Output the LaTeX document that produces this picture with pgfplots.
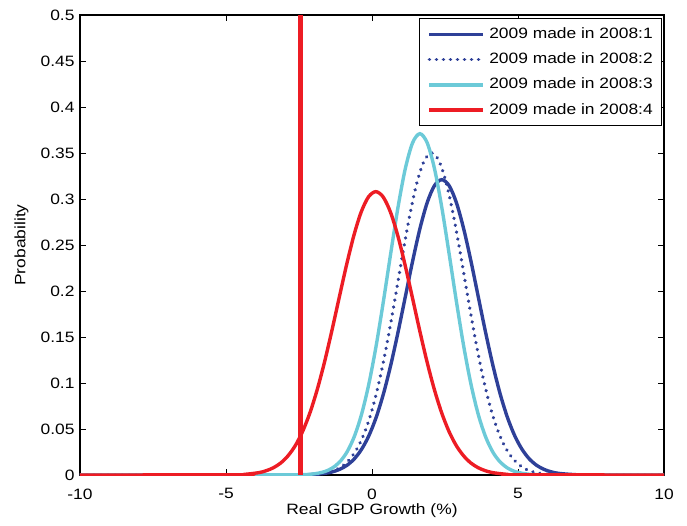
\documentclass[border=0pt]{standalone}
\usepackage{fontspec}
\setmainfont{Liberation Sans}[FakeStretch=1.16]
\usepackage{pgfplots}
\pgfplotsset{compat=1.18}
\definecolor{dblue}{RGB}{46,64,152}
\definecolor{lcyan}{RGB}{108,202,216}
\definecolor{myred}{RGB}{237,28,36}
\begin{document}
\begin{tikzpicture}
\begin{axis}[
  name=ax,
  width=584pt, height=460pt, scale only axis,
  xmin=-10, xmax=10, ymin=0, ymax=0.5,
  xtick={-10,-5,0,5,10},
  ytick={0,0.05,0.1,0.15,0.2,0.25,0.3,0.35,0.4,0.45,0.5},
  tick align=inside, major tick length=6pt,
  axis line style={line width=1.2pt},
  tick style={black, line width=0.8pt},
  font=\fontsize{15}{18}\selectfont,
  /pgf/number format/assume math mode=true,
  yticklabel style={/pgf/number format/fixed,/pgf/number format/precision=2, xshift=-2pt},
  xticklabel style={yshift=-10pt},
  xlabel={Real GDP Growth (\%)}, ylabel={Probability},
  xlabel style={at={(axis description cs:0.5,-0.078)}, anchor=center},
  ylabel style={at={(axis description cs:-0.1,0.5)}, anchor=center},
  legend cell align=left,
  legend image code/.code={\draw[#1] (0pt,0pt) -- (54pt,0pt); \path (57pt,0pt);},
  legend style={at={(0.997,0.993)}, anchor=north east, draw=black, line width=1pt,
    font=\fontsize{15}{18}\selectfont, inner xsep=8pt, inner ysep=7.5pt, row sep=9.3pt,
    nodes={inner sep=1pt, text height=11pt, text depth=3pt}},
]
\addplot[dblue, line width=3.4pt, smooth] coordinates {
(-10,0) (-2.61,0.0001) (-2.11,0.0005) (-1.61,0.0018) (-1.36,0.0034) (-1.11,0.0061)
(-0.86,0.0105) (-0.61,0.0174) (-0.36,0.0278) (-0.11,0.0425) (0.14,0.0624) (0.39,0.0880)
(0.64,0.1192) (0.89,0.1550) (1.14,0.1936) (1.39,0.2323) (1.64,0.2676) (1.89,0.2961)
(2.14,0.3146) (2.39,0.321) (2.64,0.3146) (2.89,0.2961) (3.14,0.2676) (3.39,0.2323)
(3.64,0.1936) (3.89,0.1550) (4.14,0.1192) (4.39,0.0880) (4.64,0.0624) (4.89,0.0425)
(5.14,0.0278) (5.39,0.0174) (5.64,0.0105) (5.89,0.0061) (6.14,0.0034) (6.39,0.0018)
(6.89,0.0005) (7.39,0.0001) (10,0)};
\addlegendentry{2009 made in 2008:1}
\addplot[dblue, line width=3.6pt, line cap=round, dash pattern=on 0.01pt off 7pt, smooth] coordinates {
(-10,0) (-2.46,0.0001) (-1.96,0.0007) (-1.71,0.0016) (-1.46,0.0031) (-1.21,0.0060)
(-0.96,0.0110) (-0.71,0.0191) (-0.46,0.0316) (-0.21,0.0499) (0.04,0.0751) (0.29,0.1078)
(0.54,0.1473) (0.79,0.1919) (1.04,0.2382) (1.29,0.2819) (1.54,0.3179) (1.79,0.3417)
(2.04,0.350) (2.29,0.3417) (2.54,0.3179) (2.79,0.2819) (3.04,0.2382) (3.29,0.1919)
(3.54,0.1473) (3.79,0.1078) (4.04,0.0751) (4.29,0.0499) (4.54,0.0316) (4.79,0.0191)
(5.04,0.0110) (5.29,0.0060) (5.54,0.0031) (5.79,0.0016) (6.04,0.0007) (6.54,0.0001) (10,0)};
\addlegendentry{2009 made in 2008:2}
\addplot[lcyan, line width=3.4pt, smooth] coordinates {
(-10,0) (-2.86,0.0001) (-2.36,0.0004) (-2.11,0.0008) (-1.86,0.0019) (-1.61,0.0038)
(-1.36,0.0076) (-1.11,0.0141) (-0.86,0.0248) (-0.61,0.0415) (-0.36,0.0657) (-0.11,0.0986)
(0.14,0.1401) (0.39,0.1887) (0.64,0.2407) (0.89,0.2909) (1.14,0.3330) (1.39,0.3611)
(1.64,0.371) (1.89,0.3611) (2.14,0.3330) (2.39,0.2909) (2.64,0.2407) (2.89,0.1887)
(3.14,0.1401) (3.39,0.0986) (3.64,0.0657) (3.89,0.0415) (4.14,0.0248) (4.39,0.0141)
(4.64,0.0076) (4.89,0.0038) (5.14,0.0019) (5.39,0.0008) (5.64,0.0004) (6.14,0.0001) (10,0)};
\addlegendentry{2009 made in 2008:3}
\addplot[myred, line width=3.4pt, smooth] coordinates {
(-10,0) (-4.87,0.0002) (-4.37,0.0007) (-3.87,0.0026) (-3.62,0.0047) (-3.37,0.0080)
(-3.12,0.0132) (-2.87,0.0211) (-2.62,0.0323) (-2.37,0.0478) (-2.12,0.0681) (-1.87,0.0935)
(-1.62,0.1236) (-1.37,0.1575) (-1.12,0.1933) (-0.87,0.2286) (-0.62,0.2605) (-0.37,0.2859)
(-0.12,0.3023) (0.13,0.308) (0.38,0.3023) (0.63,0.2859) (0.88,0.2605) (1.13,0.2286)
(1.38,0.1933) (1.63,0.1575) (1.88,0.1236) (2.13,0.0935) (2.38,0.0681) (2.63,0.0478)
(2.88,0.0323) (3.13,0.0211) (3.38,0.0132) (3.63,0.0080) (3.88,0.0047) (4.13,0.0026)
(4.63,0.0007) (5.13,0.0002) (10,0)};
\addlegendentry{2009 made in 2008:4}
\addplot[myred, line width=5pt, forget plot] coordinates {(-2.44,0) (-2.44,0.5)};
\end{axis}
\path ([xshift=-80pt,yshift=-50pt]ax.south west) rectangle ([xshift=23pt,yshift=15pt]ax.north east);
\end{tikzpicture}
\end{document}
